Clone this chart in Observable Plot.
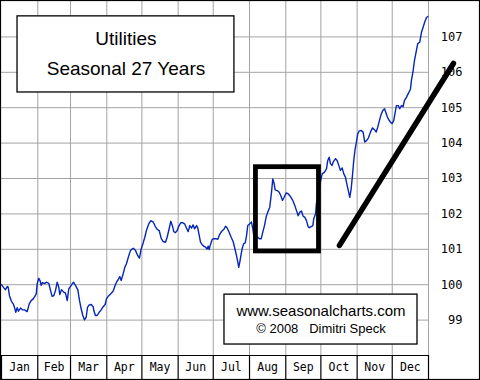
<!DOCTYPE html>
<html>
<head>
<meta charset="utf-8">
<script src="https://cdn.jsdelivr.net/npm/d3@7"></script>
<script src="https://cdn.jsdelivr.net/npm/@observablehq/plot@0.6"></script>
<style>
  html, body { margin: 0; padding: 0; background: #fff; }
  svg { display: block; }
</style>
</head>
<body>
<div id="chart"></div>
<script>
const months = ["Jan","Feb","Mar","Apr","May","Jun","Jul","Aug","Sep","Oct","Nov","Dec"];
const monthStarts = [0,31,59,90,120,151,181,212,243,273,304,334,365];
const yTicks = [99,100,101,102,103,104,105,106,107];

const days = [0,2.0,3.4,4.9,5.7,6.8,8.5,10.0,11.1,12.2,13.4,14.5,16.2,17.9,19.7,22.0,23.7,25.4,27.1,28.5,29.7,30.5,31.9,33.1,33.9,35.0,36.8,38.2,40.4,41.9,43.3,44.7,46.2,47.6,49.0,49.8,51.3,53.2,54.7,56.2,57.5,59.6,61.5,63.2,65.2,66.7,68.1,69.5,70.9,72.4,73.5,75.0,76.7,78.4,78.9,80.3,81.8,83.5,85.2,86.9,88.6,89.7,91.7,93.8,95.5,96.8,98.3,99.7,101.1,102.3,104.0,105.4,106.8,108.8,110.3,112.6,114.5,116.5,117.9,119.4,121.1,122.5,123.9,125.9,127.6,129.7,131.4,133.1,134.8,136.5,138.2,140.2,141.6,143.3,144.7,146.2,147.3,148.7,150.2,151.5,153.2,155.0,156.7,158.1,159.6,160.9,162.4,163.8,165.0,166.7,167.8,169.0,170.1,171.5,172.9,174.4,175.8,176.7,177.5,178.6,180.1,181.5,183.2,184.9,186.3,188.0,190.0,191.5,192.9,194.6,196.3,198.0,199.4,200.9,202.0,202.8,203.7,204.9,206.0,207.1,208.3,209.4,210.5,212.2,213.7,214.8,215.6,217.1,219.1,220.5,222.0,223.3,224.8,226.2,227.6,229.3,230.8,231.9,233.1,233.9,235.6,237.4,238.7,240.2,241.6,243.3,245.0,247.0,249.0,250.7,252.1,253.6,255.0,256.4,257.9,259.2,260.7,262.1,263.2,264.7,266.1,266.9,268.4,269.2,271.4,274.1,276.1,277.8,278.9,280.1,281.2,282.6,283.5,285.5,286.9,288.3,289.7,291.2,292.6,294.0,295.5,296.8,297.7,298.9,300.0,301.1,302.3,303.4,304.5,305.7,307.4,309.1,310.5,312.0,313.7,315.4,317.1,318.8,320.3,321.6,323.1,324.5,325.9,327.4,328.2,329.7,331.0,332.5,333.9,335.3,336.5,337.6,339.1,340.4,341.9,343.3,344.4,346.2,347.9,349.6,350.4,351.9,353.0,354.4,355.8,357.5,359.0,360.4,361.8,363.2,364.4];
const values = [100.00,99.91,99.86,99.95,99.93,99.69,99.53,99.46,99.36,99.22,99.35,99.25,99.34,99.29,99.29,99.24,99.46,99.55,99.60,99.67,99.74,100.03,100.18,100.10,99.98,100.06,100.03,100.07,100.04,99.84,99.67,99.69,99.84,100.07,99.93,99.72,99.86,99.79,99.76,99.55,99.88,99.98,100.07,99.98,99.86,99.55,99.32,99.13,99.01,99.08,99.36,99.43,99.44,99.38,99.27,99.13,99.13,99.22,99.29,99.38,99.44,99.60,99.69,99.76,99.82,99.95,100.07,100.14,100.23,100.12,100.31,100.49,100.59,100.82,100.97,101.03,100.97,100.82,100.75,101.01,101.18,101.34,101.53,101.72,101.81,101.77,101.65,101.56,101.53,101.31,101.22,101.20,101.34,101.58,101.79,101.65,101.50,101.47,101.53,101.65,101.75,101.75,101.71,101.60,101.50,101.67,101.60,101.69,101.58,101.67,101.60,101.39,101.20,101.13,101.09,101.06,101.01,101.09,100.99,101.13,101.28,101.30,101.30,101.28,101.41,101.50,101.56,101.65,101.60,101.48,101.34,101.22,101.03,100.82,100.64,100.49,100.64,100.87,101.06,101.16,101.18,101.37,101.67,101.72,101.77,101.58,101.39,101.34,101.34,101.30,101.30,101.48,101.67,101.91,102.05,102.19,102.61,102.99,102.85,102.68,102.66,102.61,102.52,102.38,102.47,102.59,102.57,102.49,102.38,102.24,102.10,101.95,102.05,102.08,101.93,101.91,101.81,101.64,101.61,101.64,101.67,101.86,102.00,102.29,102.72,103.13,103.18,103.27,103.51,103.60,103.42,103.37,103.46,103.56,103.51,103.37,103.23,103.30,103.13,103.04,102.80,102.61,102.47,102.71,103.08,103.51,103.84,104.03,104.26,104.34,104.36,104.31,104.03,104.07,104.15,104.31,104.43,104.38,104.31,104.45,104.64,104.81,104.92,104.97,104.90,104.75,104.66,104.59,104.55,104.64,104.87,105.06,105.06,104.97,105.06,105.03,105.20,105.30,105.41,105.53,105.77,106.05,106.33,106.57,106.81,106.85,107.13,107.27,107.42,107.54,107.58];

const titleLines = ["Utilities", "Seasonal 27 Years"];
const creditLines = ["www.seasonalcharts.com", "\u00a9 2008\u00a0\u00a0\u00a0Dimitri Speck"];

const series = days.map((d, i) => ({day: d, value: values[i]}));
const monthLabels = months.map((m, i) => ({m, mid: (monthStarts[i] + monthStarts[i + 1]) / 2}));

// annotation geometry (in data units)
const bandBottom = 97.32, bandMid = 97.66;
const highlight = {x1: 217.5, x2: 271.4, y1: 100.94, y2: 103.32};
const trend = [{day: 288.9, value: 101.11}, {day: 386.3, value: 106.25}];
const titleBox = {x1: 13.7, x2: 199.1, y1: 105.43, y2: 107.58};
const creditBox = {x1: 190.6, x2: 355.6, y1: 98.31, y2: 99.72};

const grid = "#a3a3a3";

const chart = Plot.plot({
  width: 480,
  height: 380,
  marginLeft: 1,
  marginRight: 52,
  marginTop: 1,
  marginBottom: 25,
  x: {domain: [0, 365], axis: null},
  y: {domain: [98, 108], axis: null},
  style: {fontFamily: "DejaVu Sans Mono", background: "#fff"},
  marks: [
    Plot.ruleX(monthStarts.slice(1), {stroke: grid, strokeWidth: 1}),
    Plot.ruleY(yTicks, {stroke: grid, strokeWidth: 1}),
    Plot.ruleY([98], {x1: 0, x2: 365, stroke: "#000", strokeWidth: 1.2}),
    Plot.ruleX(monthStarts, {y1: bandBottom, y2: 98, stroke: "#000", strokeWidth: 1.2}),
    Plot.text(monthLabels, {x: "mid", y: bandMid, text: "m", fontSize: 11.5, fill: "#000"}),
    Plot.text(yTicks, {x: 365, y: d => d, text: d => String(d), dx: 34, textAnchor: "end", fontSize: 12, fill: "#000"}),
    Plot.line(series, {x: "day", y: "value", stroke: "#0526b8", strokeWidth: 1.4}),
    Plot.rect([highlight], {x1: "x1", x2: "x2", y1: "y1", y2: "y2", fill: "none", stroke: "#000", strokeWidth: 4.8}),
    Plot.line(trend, {x: "day", y: "value", stroke: "#000", strokeWidth: 5.5, strokeLinecap: "round"}),
    Plot.rect([titleBox], {x1: "x1", x2: "x2", y1: "y1", y2: "y2", fill: "#fff", stroke: "#000", strokeWidth: 1.3}),
    Plot.text(titleLines, {x: 106.4, y: (d, i) => [106.95, 106.10][i], text: d => d, fontFamily: "Liberation Sans", fontSize: 19, fill: "#000"}),
    Plot.rect([creditBox], {x1: "x1", x2: "x2", y1: "y1", y2: "y2", fill: "#fff", stroke: "#000", strokeWidth: 1.3}),
    Plot.text(creditLines, {x: 273.1, y: (d, i) => [99.24, 98.74][i], text: d => d, fontFamily: "Liberation Sans", fontSize: (d, i) => [15, 13][i], fill: "#000"})
  ]
});

d3.select(chart).append("rect")
  .attr("x", 0.5).attr("y", 0.5).attr("width", 479).attr("height", 379)
  .attr("fill", "none").attr("stroke", "#000").attr("stroke-width", 1.2);

document.getElementById("chart").appendChild(chart);
</script>
</body>
</html>
